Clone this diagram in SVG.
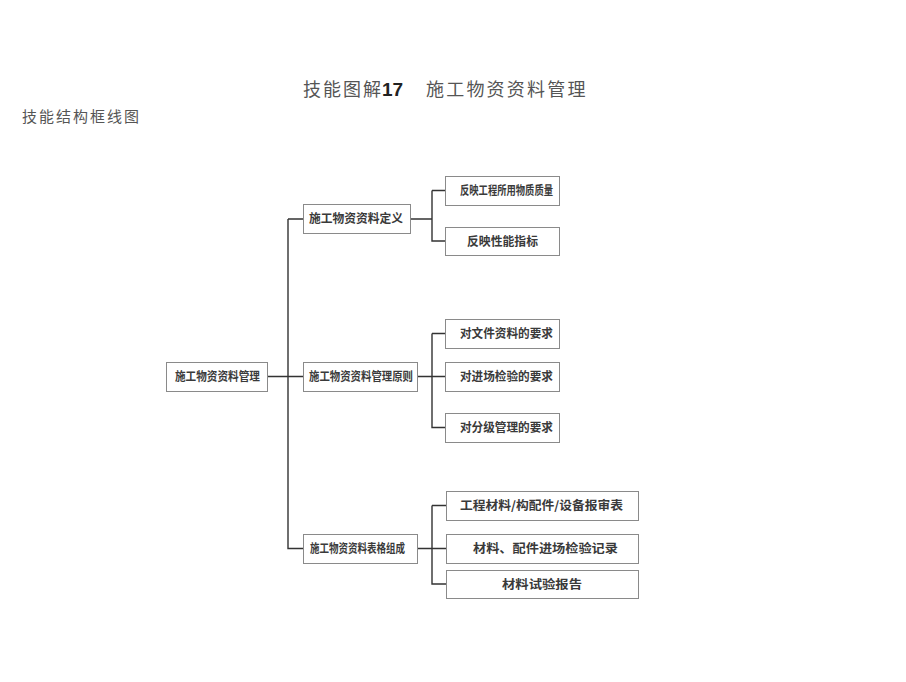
<svg xmlns="http://www.w3.org/2000/svg" width="906" height="682" viewBox="0 0 906 682">
<style>
.bx{fill:#fff;stroke:#8a8a8a;stroke-width:1}
.t{font-family:"Noto Sans CJK SC","Liberation Sans",sans-serif;fill:#3a3a3a;font-weight:bold;font-size:12px}
.hd{font-family:"Noto Sans CJK SC","Liberation Sans",sans-serif;fill:#555}
.cn{fill:none;stroke:#333;stroke-width:1.4}
</style>
<rect width="906" height="682" fill="#fff"/>
<text class="hd" x="303" y="96" font-size="18" letter-spacing="2">技能图解</text>
<text x="382" y="96" font-family="Liberation Sans,sans-serif" font-weight="bold" font-size="19" fill="#222">17</text>
<text class="hd" x="426" y="96" font-size="18" letter-spacing="2.2">施工物资资料管理</text>
<text class="hd" x="22" y="122" font-size="15" letter-spacing="2">技能结构框线图</text>
<g id="connectors">
<path class="cn" d="M268 376.5H303M288 219V548.5H303M288 219H303"/>
<path class="cn" d="M410 219H432M432 190.5V241H445M432 190.5H445"/>
<path class="cn" d="M418 376.5H445M432 333.5V427.5H445M432 333.5H445"/>
<path class="cn" d="M418 548.5H446M432 505.5V584H446M432 505.5H446"/>
</g>
<g id="root"><rect class="bx" x="166.5" y="362.5" width="101" height="29"/><text class="t" x="175" y="381" textLength="85" lengthAdjust="spacingAndGlyphs">施工物资资料管理</text></g>
<g id="def"><rect class="bx" x="303.5" y="204.5" width="107" height="29"/><text class="t" x="309" y="223" textLength="94" lengthAdjust="spacingAndGlyphs">施工物资资料定义</text></g>
<g id="principle"><rect class="bx" x="303.5" y="362.5" width="114" height="29"/><text class="t" x="309" y="381" textLength="104" lengthAdjust="spacingAndGlyphs">施工物资资料管理原则</text></g>
<g id="table"><rect class="bx" x="303.5" y="534.5" width="114" height="29"/><text class="t" x="310" y="553" textLength="95" lengthAdjust="spacingAndGlyphs">施工物资资料表格组成</text></g>
<g id="d1"><rect class="bx" x="445.5" y="176.5" width="114" height="29"/><text class="t" x="460" y="195" textLength="93" lengthAdjust="spacingAndGlyphs">反映工程所用物质质量</text></g>
<g id="d2"><rect class="bx" x="445.5" y="227.5" width="114" height="28"/><text class="t" x="467" y="246" textLength="71" lengthAdjust="spacingAndGlyphs">反映性能指标</text></g>
<g id="p1"><rect class="bx" x="445.5" y="319.5" width="114" height="29"/><text class="t" x="460" y="338" textLength="93" lengthAdjust="spacingAndGlyphs">对文件资料的要求</text></g>
<g id="p2"><rect class="bx" x="445.5" y="362.5" width="114" height="29"/><text class="t" x="460" y="381" textLength="93" lengthAdjust="spacingAndGlyphs">对进场检验的要求</text></g>
<g id="p3"><rect class="bx" x="445.5" y="413.5" width="114" height="29"/><text class="t" x="460" y="432" textLength="93" lengthAdjust="spacingAndGlyphs">对分级管理的要求</text></g>
<g id="t1"><rect class="bx" x="446.5" y="491.5" width="192" height="29"/><text class="t" x="460" y="510" textLength="163" lengthAdjust="spacingAndGlyphs">工程材料/构配件/设备报审表</text></g>
<g id="t2"><rect class="bx" x="446.5" y="534.5" width="192" height="29"/><text class="t" x="473" y="553" textLength="145" lengthAdjust="spacingAndGlyphs">材料、配件进场检验记录</text></g>
<g id="t3"><rect class="bx" x="446.5" y="570.5" width="192" height="28"/><text class="t" x="502" y="589" textLength="80" lengthAdjust="spacingAndGlyphs">材料试验报告</text></g>
</svg>
